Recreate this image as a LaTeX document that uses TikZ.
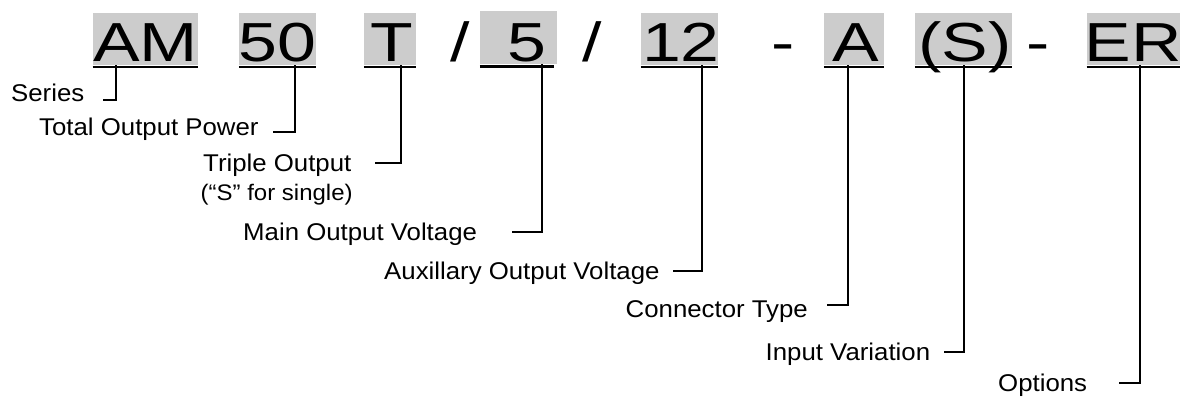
\documentclass[tikz,border=0pt]{standalone}
\usepackage{fontspec}
\setmainfont[FakeStretch=1.066]{Liberation Sans}
\newfontfamily\codefont[FakeStretch=1.27]{Liberation Sans}
\definecolor{codegray}{HTML}{CCCCCC}
\begin{document}
\begin{tikzpicture}[x=1bp,y=-1bp,
  codebox/.style={fill=codegray, inner sep=0pt, minimum height=52.3bp},
  codetxt/.style={anchor=base, inner sep=0pt, font=\codefont\fontsize{55bp}{60bp}\selectfont},
  lbl/.style={anchor=base west, inner sep=0pt, font=\fontsize{24.2bp}{28bp}\selectfont},
  note/.style={anchor=base west, inner sep=0pt, font=\fontsize{22.5bp}{26bp}\selectfont},
  uline/.style={line width=2.6bp},
  conn/.style={line width=2.2bp, line join=miter}]
\useasboundingbox (0,0) rectangle (1180,396);

% gray code boxes
\node[codebox, minimum width=105.3bp] (bAM) at (145.35,38.85) {};
\node[codebox, minimum width=77bp]    (b50) at (277.5,38.85) {};
\node[codebox, minimum width=52bp]    (bT)  at (390,38.85) {};
\node[codebox, minimum width=76.7bp]  (b5)  at (518.35,37.5) {};
\node[codebox, minimum width=77bp]    (b12) at (679.5,38.85) {};
\node[codebox, minimum width=60bp]    (bA)  at (854,38.85) {};
\node[codebox, minimum width=97bp]    (bS)  at (963.5,38.85) {};
\node[codebox, minimum width=103.3bp] (bER) at (1138.35,38.85) {};

% code text
\node[codetxt] (tAM) at (145.5,61.7) {AM};
\node[codetxt] (t50) at (277.2,61.7) {50};
\node[codetxt] (tT)  at (391.7,61.7) {T};
\node[codetxt] (sl1) at (460,61.7) {/};
\node[codetxt] (t5)  at (527,61.7) {5};
\node[codetxt] (sl2) at (592,61.7) {/};
\node[codetxt] (t12) at (681,61.7) {12};
\node[codetxt] (d1)  at (783,61.7) {-};
\node[codetxt] (tA)  at (855.3,61.7) {A};
\node[codetxt] (tS)  at (965,61.7) {(S)};
\node[codetxt] (d2)  at (1038.5,61.7) {-};
\node[codetxt] (tER) at (1133,61.7) {ER};

% underlines
\foreach \b in {bAM,b50,bT,b12,bA,bS,bER}{
  \draw[uline] ([yshift=-1.7bp]\b.south west) -- ([yshift=-1.7bp]\b.south east);
}
\draw[uline] ([yshift=-2.7bp]b5.south west) -- ([yshift=-2.7bp,xshift=-3bp]b5.south east);

% labels
\node[lbl]  (lSeries) at (11,101.7)    {Series};
\node[lbl]  (lPower)  at (39,135.7)    {Total Output Power};
\node[lbl]  (lTriple) at (203,171.7)   {Triple Output};
\node[note] (lSingle) at (200.5,200.7) {(“S” for single)};
\node[lbl]  (lMain)   at (243,240)     {Main Output Voltage};
\node[lbl]  (lAux)    at (384,279.3)   {Auxillary Output Voltage};
\node[lbl]  (lConn)   at (625.5,317.3) {Connector Type};
\node[lbl]  (lInput)  at (765.5,360.7) {Input Variation};
\node[lbl]  (lOpt)    at (998,391.2)   {Options};

% connector corners and free ends
\coordinate (vAM) at (116,100);     \coordinate (eAM) at (103,100);
\coordinate (v50) at (295,131.7);   \coordinate (e50) at (272.7,131.7);
\coordinate (vT)  at (400.7,163.3); \coordinate (eT)  at (375,163.3);
\coordinate (v5)  at (541.7,231.7); \coordinate (e5)  at (512,231.7);
\coordinate (v12) at (702.3,270.7); \coordinate (e12) at (673,270.7);
\coordinate (vA)  at (848,305.3);   \coordinate (eA)  at (826.7,305.3);
\coordinate (vS)  at (964,351.7);   \coordinate (eS)  at (943.5,351.7);
\coordinate (vER) at (1140,382.7);  \coordinate (eER) at (1119,382.7);

\foreach \k in {AM,50,T,5,12,A,S,ER}{
  \draw[conn] (b\k.south -| v\k) -- (v\k) -- (e\k);
}
\end{tikzpicture}
\end{document}
